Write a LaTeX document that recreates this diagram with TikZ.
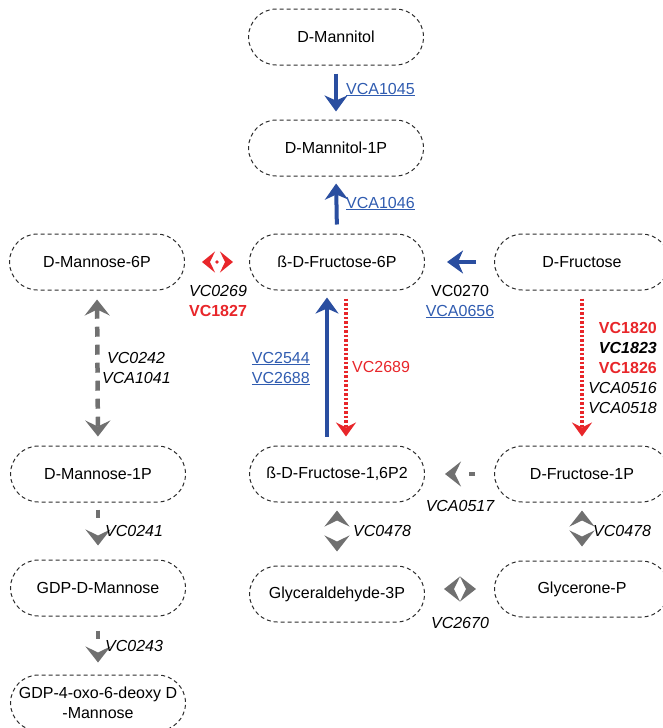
\documentclass[tikz,border=0pt]{standalone}
\usepackage{fontspec}
\setmainfont{Liberation Sans}
\usetikzlibrary{arrows.meta,calc}
\definecolor{bl}{RGB}{42,78,160}
\definecolor{blt}{RGB}{48,92,176}
\definecolor{rd}{RGB}{232,38,42}
\definecolor{gr}{RGB}{112,112,112}
\definecolor{bd}{RGB}{45,45,45}
\begin{document}
\begin{tikzpicture}[x=1pt,y=-1pt,
  mol/.style={draw=bd, dash pattern=on 4pt off 3pt, line width=1pt, rounded corners=28pt,
    minimum width=175pt, minimum height=56pt, inner sep=0pt, align=center,
    font=\fontsize{16}{20}\selectfont},
  lab/.style={inner sep=0pt, font=\fontsize{16}{19}\selectfont},
  blarr/.style={draw=bl, line width=4pt, -{Stealth[length=16pt,width=23pt,inset=5pt]}},
  rdarr/.style={draw=rd, line width=3.5pt, dash pattern=on 2.5pt off 2pt, line cap=butt,
    -{Stealth[length=14pt,width=20pt,inset=5pt]}},
  rddbl/.style={draw=rd, line width=3pt, dash pattern=on 0pt off 100pt,
    {Stealth[length=13pt,width=21pt,inset=5pt]}-{Stealth[length=13pt,width=21pt,inset=5pt]}},
  grarr/.style={draw=gr, line width=4.5pt, line cap=butt,
    -{Stealth[length=16pt,width=25pt,inset=6pt]}},
  grdbl/.style={draw=gr, line width=4.5pt, line cap=butt,
    {Stealth[length=16pt,width=25pt,inset=6pt]}-{Stealth[length=16pt,width=25pt,inset=6pt]}},
  nolin/.style={dash pattern=on 0pt off 200pt}
]
\useasboundingbox (0,0) rectangle (662,728);

% molecules
\node[mol] (mannitol)   at (336,37)  {D-Mannitol};
\node[mol] (mannitol1p) at (336,148) {D-Mannitol-1P};
\node[mol] (f6)   at (337,262) {ß-D-Fructose-6P};
\node[mol] (fru)  at (582,262) {D-Fructose};
\node[mol] (m6)   at (97,262)  {D-Mannose-6P};
\node[mol] (m1p)  at (98,474)  {D-Mannose-1P};
\node[mol] (gdp)  at (98,588)  {GDP-D-Mannose};
\node[mol] (gdp4) at (98,703)  {GDP-4-oxo-6-deoxy D\\-Mannose};
\node[mol] (f16)  at (337,474) {ß-D-Fructose-1,6P2};
\node[mol] (f1p)  at (582,474) {D-Fructose-1P};
\node[mol] (g3p)  at (337,594) {Glyceraldehyde-3P};
\node[mol] (gly)  at (582,589) {Glycerone-P};

% blue arrows
\draw[blarr, shorten <=8pt, shorten >=8pt] (mannitol.south) -- (mannitol1p.north);
\draw[blarr, shorten <=9pt, shorten >=7pt] (f6.north) -- (mannitol1p.south);
\draw[blarr, shorten <=18pt, shorten >=22pt] (fru.west) -- (f6.east);
\draw[blarr, shorten <=9pt, shorten >=7pt] ($(f16.north)+(-10,0)$) -- ($(f6.south)+(-10,0)$);

% red arrows
\draw[rdarr, shorten <=8pt, shorten >=9pt] ($(f6.south)+(9,0)$) -- ($(f16.north)+(9,0)$);
\draw[rdarr, shorten <=8pt, shorten >=9pt] (fru.south) -- (f1p.north);
\draw[rddbl, shorten <=17pt, shorten >=16pt] (m6.east) -- (f6.west);
\path (m6.east) -- (f6.west) coordinate[midway] (rmid);
\fill[rd] (rmid) circle (1.8pt);

% grey arrows
\draw[grdbl, dash pattern=on 10pt off 8pt, shorten <=9pt, shorten >=9pt] (m6.south) -- (m1p.north);
\draw[grarr, dash pattern=on 8pt off 40pt, shorten <=7pt, shorten >=14pt] (m1p.south) -- (gdp.north);
\draw[grarr, dash pattern=on 8pt off 40pt, shorten <=14pt, shorten >=12pt] (gdp.south) -- (gdp4.north);
\draw[grarr, dash pattern=on 6pt off 40pt, shorten <=19pt, shorten >=20pt] (f1p.west) -- (f16.east);
\draw[grdbl, nolin, shorten <=8pt, shorten >=14pt] (f16.south) -- (g3p.north);
\draw[grdbl, nolin, shorten <=8pt, shorten >=14pt] (f1p.south) -- (gly.north);
\draw[grdbl, nolin, shorten <=19pt, shorten >=18pt] (g3p.east |- gly.west) -- (gly.west);

% labels
\node[lab, blt, anchor=base west] (t1045) at (346,94)  {\underline{VCA1045}};
\node[lab, blt, anchor=base west] (t1046) at (346,208) {\underline{VCA1046}};
\node[lab, anchor=base] (t0269) at (218,296) {\itshape VC0269};
\node[lab, rd, anchor=base] (t1827) at (218,316) {\bfseries VC1827};
\node[lab, anchor=base] (t0270) at (460,296) {VC0270};
\node[lab, blt, anchor=base] (t0656) at (460,316) {\underline{VCA0656}};
\node[lab, blt, anchor=base east] (t2544) at (310,363) {\underline{VC2544}};
\node[lab, blt, anchor=base east] (t2688) at (310,383) {\underline{VC2688}};
\node[lab, rd, anchor=base west] (t2689) at (352,372) {VC2689};
\node[lab, rd, anchor=base east] (t1820) at (657,333) {\bfseries VC1820};
\node[lab, anchor=base east] (t1823) at (657,353) {\bfseries\itshape VC1823};
\node[lab, rd, anchor=base east] (t1826) at (657,373) {\bfseries VC1826};
\node[lab, anchor=base east] (t0516) at (657,393) {\itshape VCA0516};
\node[lab, anchor=base east] (t0518) at (657,413) {\itshape VCA0518};
\node[lab, anchor=base west] (t0242) at (107,363) {\itshape VC0242};
\node[lab, anchor=base west] (t1041) at (102,383) {\itshape VCA1041};
\node[lab, anchor=base west] (t0241) at (105,536) {\itshape VC0241};
\node[lab, anchor=base west] (t0243) at (105,651) {\itshape VC0243};
\node[lab, anchor=base] (t0517) at (460,511) {\itshape VCA0517};
\node[lab, anchor=base west] (t0478a) at (353,536) {\itshape VC0478};
\node[lab, anchor=base west] (t0478b) at (593,536) {\itshape VC0478};
\node[lab, anchor=base] (t2670) at (460,628) {\itshape VC2670};
\end{tikzpicture}
\end{document}
